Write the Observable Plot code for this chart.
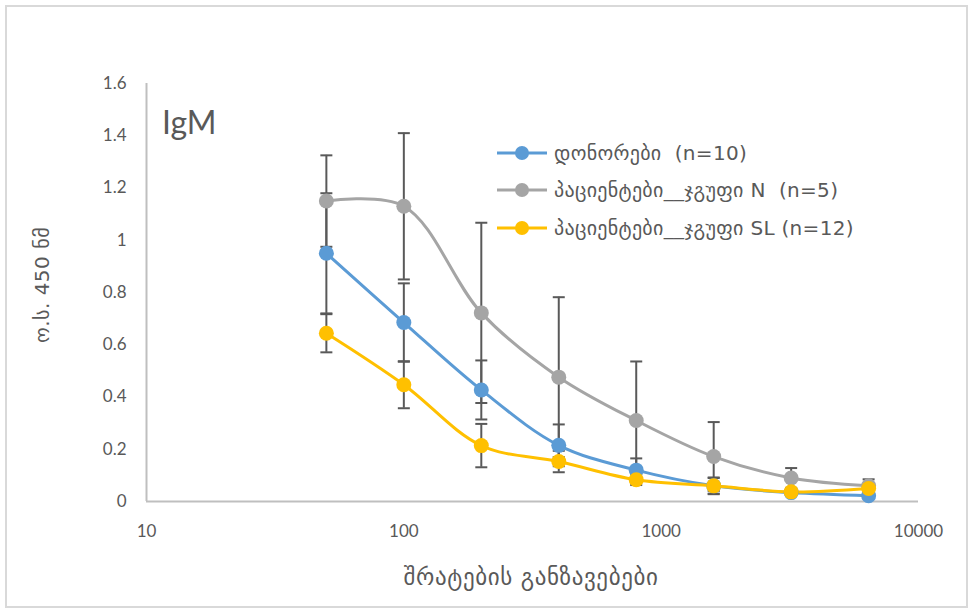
<!DOCTYPE html>
<html>
<head>
<meta charset="utf-8">
<script src="https://cdn.jsdelivr.net/npm/d3@7"></script>
<script src="https://cdn.jsdelivr.net/npm/@observablehq/plot@0.6"></script>
<style>
  html, body { margin: 0; padding: 0; background: #fff; }
  #wrap { position: relative; width: 968px; height: 611px; overflow: hidden; }
  #frame { position: absolute; left: 5px; top: 5px; width: 963px; height: 603px; box-sizing: border-box; border: 2px solid #D9D9D9; pointer-events: none; }
  .lbl { position: absolute; color: #595959; font-family: "DejaVu Sans", "Noto Sans", sans-serif; white-space: nowrap; }
  #legend { position: absolute; left: 497px; top: 134px; }
  .row { display: flex; align-items: center; height: 37.5px; }
  .row span { font-family: "DejaVu Sans", "Noto Sans", sans-serif; font-size: 20px; letter-spacing: 0.3px; color: #595959; margin-left: 7px; white-space: pre; }
</style>
</head>
<body>
<div id="wrap">
  <div id="chart"></div>
  <div id="frame"></div>
  <div class="lbl" id="title" style="left:162px; top:102px; font-family: Lato, 'Open Sans', sans-serif; font-size:32px;">IgM</div>
  <div class="lbl" id="ylab" style="left:42px; top:285px; font-size:20px; letter-spacing:0.5px; transform: translate(-50%,-50%) rotate(-90deg);">ო.ს. 450 ნმ</div>
  <div class="lbl" id="xlab" style="left:531px; top:577px; font-size:23px; letter-spacing:0.6px; transform: translate(-50%,-50%);">შრატების განზავებები</div>
  <div id="legend"></div>
</div>
<script>
const dilutions = [50, 100, 200, 400, 800, 1600, 3200, 6400];
const seriesNames = ["დონორები  (n=10)", "პაციენტები__ჯგუფი N  (n=5)", "პაციენტები__ჯგუფი SL (n=12)"];
const seriesColors = ["#5B9BD5", "#A5A5A5", "#FFC000"];
const donors      = [0.95, 0.685, 0.427, 0.215, 0.12, 0.06, 0.034, 0.022];
const donorsErr   = [0.23, 0.15, 0.113, 0.08, 0.045, 0.032, 0.01, 0.01];
const groupN      = [1.15, 1.13, 0.722, 0.476, 0.31, 0.172, 0.09, 0.06];
const groupNErr   = [0.175, 0.28, 0.345, 0.306, 0.226, 0.132, 0.038, 0.025];
const groupSL     = [0.644, 0.447, 0.214, 0.153, 0.083, 0.06, 0.037, 0.05];
const groupSLErr  = [0.073, 0.09, 0.083, 0.041, 0.02, 0.03, 0.01, 0.01];
const yTicks = [0, 0.2, 0.4, 0.6, 0.8, 1, 1.2, 1.4, 1.6];
const xTicks = [10, 100, 1000, 10000];

const values = [donors, groupN, groupSL];
const errs = [donorsErr, groupNErr, groupSLErr];
const rows = [];
seriesNames.forEach((s, i) => {
  dilutions.forEach((x, j) => {
    rows.push({series: s, x, y: values[i][j], lo: values[i][j] - errs[i][j], hi: values[i][j] + errs[i][j]});
  });
});

const cap = { draw(ctx, size) { const r = Math.sqrt(size / Math.PI); ctx.moveTo(-r, 0); ctx.lineTo(r, 0); } };
const errColor = "#595959";

const chart = Plot.plot({
  width: 968,
  height: 611,
  marginLeft: 146,
  marginRight: 50,
  marginTop: 83,
  marginBottom: 110,
  style: { fontFamily: "Lato, 'Open Sans', sans-serif", fontSize: "17px", color: "#595959", background: "transparent" },
  x: { type: "log", domain: [10, 10000], label: null },
  y: { domain: [0, 1.6], label: null },
  color: { domain: seriesNames, range: seriesColors },
  marks: [
    Plot.axisX({ ticks: xTicks, tickSize: 0, tickPadding: 23, tickFormat: d => String(d), label: null }),
    Plot.axisY({ ticks: yTicks, tickSize: 0, tickPadding: 20, tickFormat: d => String(+d.toFixed(1)), label: null }),
    Plot.ruleY([0], { stroke: "#BFBFBF", strokeWidth: 2 }),
    Plot.ruleX([10], { stroke: "#BFBFBF", strokeWidth: 2 }),
    Plot.ruleX(rows, { x: "x", y1: "lo", y2: "hi", stroke: errColor, strokeWidth: 2 }),
    Plot.dot(rows, { x: "x", y: "lo", symbol: cap, r: 6, stroke: errColor, strokeWidth: 2 }),
    Plot.dot(rows, { x: "x", y: "hi", symbol: cap, r: 6, stroke: errColor, strokeWidth: 2 }),
    Plot.line(rows, { x: "x", y: "y", z: "series", stroke: "series", strokeWidth: 3, curve: "catmull-rom" }),
    Plot.dot(rows, { x: "x", y: "y", fill: "series", r: 7.5 })
  ]
});
document.getElementById("chart").appendChild(chart);

const legend = document.getElementById("legend");
seriesNames.forEach((s, i) => {
  const row = document.createElement("div");
  row.className = "row";
  row.innerHTML = `<svg width="50" height="16"><line x1="0" x2="50" y1="8" y2="8" stroke="${seriesColors[i]}" stroke-width="3"/><circle cx="25" cy="8" r="7" fill="${seriesColors[i]}"/></svg><span>${s}</span>`;
  legend.appendChild(row);
});
</script>
</body>
</html>
